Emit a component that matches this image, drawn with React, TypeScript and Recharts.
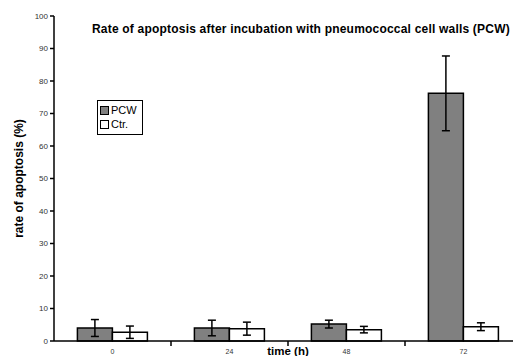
import { BarChart, Bar, XAxis, YAxis, ErrorBar, Label } from 'recharts';

const times = ['0', '24', '48', '72'];
const pcw = [4.0, 4.0, 5.2, 76.2];
const pcwErr = [2.6, 2.4, 1.2, 11.5];
const ctr = [2.7, 3.8, 3.5, 4.4];
const ctrErr = [1.9, 2.0, 1.0, 1.2];
const yTicks = [0, 10, 20, 30, 40, 50, 60, 70, 80, 90, 100];
const seriesNames = ['PCW', 'Ctr.'];
const seriesFills = ['#808080', '#fff'];

const data = times.map((t, i) => ({
    time: t,
    PCW: pcw[i],
    pcwErr: pcwErr[i],
    'Ctr.': ctr[i],
    ctrErr: ctrErr[i],
}));

const CHART_W = 522;
const Y_AXIS_W = 54;
const font = '"Liberation Sans", Arial, sans-serif';

function LegendBox() {
    return (
        <div style={{ position: 'absolute', left: 97, top: 100, border: '1.5px solid #000', padding: '2px 5px 3px 2px', background: '#fff', fontFamily: font, fontSize: 11, zIndex: 2 }}>
            {seriesNames.map((name, i) => (
                <div key={name} style={{ display: 'flex', alignItems: 'center', lineHeight: '14px' }}>
                    <span style={{ width: 7, height: 7, border: '1.5px solid #000', background: seriesFills[i], marginRight: 2 }} />
                    <span>{name}</span>
                </div>
            ))}
        </div>
    );
}

// label at the category centre, tick mark on the boundary to the next category
function TimeTick(props: any) {
    const { x, y, payload } = props;
    const idx = times.indexOf(String(payload.value));
    const band = (CHART_W - Y_AXIS_W) / times.length;
    const bx = x + band / 2;
    return (
        <g>
            {idx >= 0 && idx < times.length - 1 && (
                <line x1={bx} x2={bx} y1={y - 2} y2={y + 3} stroke="#000" strokeWidth={1.5} />
            )}
            <text x={x} y={y + 11} textAnchor="middle" fontSize={7} fill="#333" fontFamily={font}>{payload.value}</text>
        </g>
    );
}

export default function App() {
    return (
        <div style={{ position: 'absolute', left: 0, top: 0, width: 513, height: 356, overflow: 'hidden', background: '#fff' }}>
            <div style={{ position: 'absolute', left: 92, top: 22, fontFamily: font, fontSize: 12, letterSpacing: 0.2, fontWeight: 'bold', whiteSpace: 'nowrap', zIndex: 2 }}>
                Rate of apoptosis after incubation with pneumococcal cell walls (PCW)
            </div>
            <LegendBox />
            <BarChart width={CHART_W} height={356} data={data} margin={{ top: 16, right: 0, bottom: 0, left: 0 }} barCategoryGap="20%" barGap={0}>
                <YAxis
                    width={Y_AXIS_W}
                    domain={[0, 100]}
                    ticks={yTicks}
                    interval={0}
                    tickSize={4}
                    tickMargin={2}
                    stroke="#000"
                    strokeWidth={1.5}
                    tick={{ fontSize: 8, fill: '#333', stroke: 'none', fontFamily: font }}
                >
                    <Label value="rate of apoptosis (%)" angle={-90} position="insideLeft" offset={19}
                        style={{ textAnchor: 'middle', fontSize: 12, fontWeight: 'bold', fill: '#000', fontFamily: font }} />
                </YAxis>
                <XAxis
                    dataKey="time"
                    height={15}
                    interval={0}
                    tickLine={false}
                    tickSize={0}
                    tickMargin={2}
                    stroke="#000"
                    strokeWidth={1.5}
                    tick={<TimeTick />}
                >
                    <Label value="time (h)" position="insideBottom" offset={1}
                        style={{ fontSize: 11.5, fontWeight: 'bold', fill: '#000', fontFamily: font }} />
                </XAxis>
                <Bar dataKey="PCW" fill={seriesFills[0]} stroke="#000" strokeWidth={1.5} isAnimationActive={false}>
                    <ErrorBar dataKey="pcwErr" width={4} stroke="#000" strokeWidth={1.5} />
                </Bar>
                <Bar dataKey="Ctr." fill={seriesFills[1]} stroke="#000" strokeWidth={1.5} isAnimationActive={false}>
                    <ErrorBar dataKey="ctrErr" width={4} stroke="#000" strokeWidth={1.5} />
                </Bar>
            </BarChart>
        </div>
    );
}
